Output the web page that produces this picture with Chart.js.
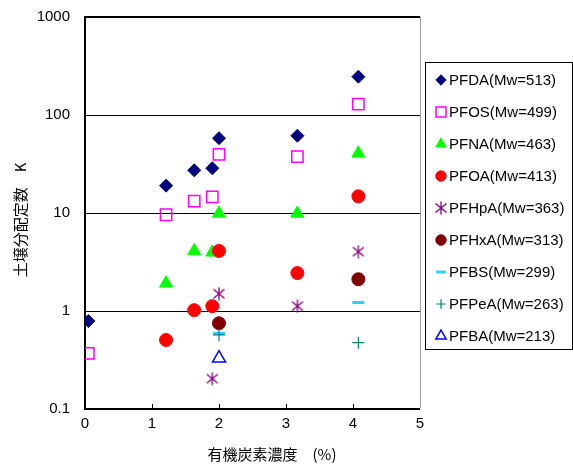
<!DOCTYPE html>
<html>
<head>
<meta charset="utf-8">
<script src="https://cdn.jsdelivr.net/npm/chart.js@4.4.0/dist/chart.umd.min.js"></script>
<style>
  body { margin: 0; background: #fff; }
  #graphic { display: block; }
</style>
</head>
<body>
<canvas id="graphic" width="573" height="466"></canvas>
<script>
// organic carbon content of the soils (%)
const soilOC = [0.05, 1.21, 1.63, 1.9, 2.0, 3.17, 4.08];

// soil partition coefficient K per compound (null = not measured)
const pfda = [0.79, 19, 27.3, 28.6, 58, 61.5, 246];
const pfos = [0.37, 9.6, 13.2, 14.6, 39.7, 37.6, 129];
const pfna = [null, 1.92, 4.1, 3.97, 9.9, 9.9, 40.6];
const pfoa = [null, 0.506, 1.02, 1.12, 4.1, 2.44, 14.8];
const pfhpa = [null, null, null, 0.204, 1.5, 1.12, 4.03];
const pfhxa = [null, null, null, null, 0.75, null, 2.11];
const pfbs = [null, null, null, null, 0.59, null, 1.22];
const pfpea = [null, null, null, null, 0.57, null, 0.475];
const pfba = [null, null, null, null, 0.33, null, null];

const labels = ['PFDA(Mw=513)', 'PFOS(Mw=499)', 'PFNA(Mw=463)', 'PFOA(Mw=413)',
  'PFHpA(Mw=363)', 'PFHxA(Mw=313)', 'PFBS(Mw=299)', 'PFPeA(Mw=263)', 'PFBA(Mw=213)'];
const yTicks = [0.1, 1, 10, 100, 1000];
const xTicks = [0, 1, 2, 3, 4, 5];

const FONT = 'Arial, "Liberation Sans", sans-serif';
const JP = '"Noto Sans CJK JP", "Noto Sans", sans-serif';

// six-armed asterisk marker like the original
function asterisk(color) {
  const c = document.createElement('canvas');
  c.width = 14; c.height = 14;
  const g = c.getContext('2d');
  g.strokeStyle = color;
  g.lineWidth = 1.3;
  g.beginPath();
  g.moveTo(7, 0.5); g.lineTo(7, 13.5);
  g.moveTo(1.5, 2.5); g.lineTo(12.5, 11.5);
  g.moveTo(12.5, 2.5); g.lineTo(1.5, 11.5);
  g.stroke();
  return c;
}

const toPoints = (vals) => soilOC
  .map((x, i) => ({ x, y: vals[i] }))
  .filter((p) => p.y !== null);

const styles = [
  { pointStyle: 'rectRot', radius: 6.5, backgroundColor: '#000080', borderColor: '#000080', borderWidth: 1 },
  { pointStyle: 'rect', radius: 8, backgroundColor: 'rgba(0,0,0,0)', borderColor: '#ff00ff', borderWidth: 1.5 },
  { pointStyle: 'triangle', radius: 7.5, backgroundColor: '#00ff00', borderColor: '#00ff00', borderWidth: 1 },
  { pointStyle: 'circle', radius: 6.5, backgroundColor: '#ff0000', borderColor: '#ff0000', borderWidth: 1 },
  { pointStyle: asterisk('#800080'), radius: 7, backgroundColor: '#800080', borderColor: '#800080', borderWidth: 1 },
  { pointStyle: 'circle', radius: 6.5, backgroundColor: '#800000', borderColor: '#800000', borderWidth: 1 },
  { pointStyle: 'line', radius: 6, backgroundColor: '#33ccff', borderColor: '#33ccff', borderWidth: 3 },
  { pointStyle: 'cross', radius: 6, backgroundColor: '#008080', borderColor: '#008080', borderWidth: 1.2 },
  { pointStyle: 'triangle', radius: 7.5, backgroundColor: 'rgba(0,0,0,0)', borderColor: '#0000ff', borderWidth: 1.5 },
];

const series = [pfda, pfos, pfna, pfoa, pfhpa, pfhxa, pfbs, pfpea, pfba];

const datasets = series.map((vals, i) => ({
  label: labels[i],
  data: toPoints(vals),
  order: -i,
  pointStyle: styles[i].pointStyle,
  pointRadius: styles[i].radius,
  pointHoverRadius: styles[i].radius,
  pointBackgroundColor: styles[i].backgroundColor,
  pointBorderColor: styles[i].borderColor,
  pointBorderWidth: styles[i].borderWidth,
  showLine: false,
}));

function legendMarker(ctx, st, x, y) {
  const r = st.pointStyle === 'rect' ? 7 : st.radius * 0.8;
  if (Chart.helpers && Chart.helpers.drawPoint) {
    Chart.helpers.drawPoint(ctx, { pointStyle: st.pointStyle, radius: r, rotation: 0, borderWidth: st.borderWidth }, x, y);
  } else {
    ctx.beginPath();
    ctx.arc(x, y, 5, 0, Math.PI * 2);
    ctx.fill();
  }
}

const decor = {
  id: 'decor',
  beforeDatasetsDraw(chart) {
    // small inward tick marks on the x axis
    const { ctx, chartArea } = chart;
    const xs = chart.scales.x;
    ctx.save();
    ctx.strokeStyle = '#000';
    ctx.lineWidth = 1;
    ctx.beginPath();
    xTicks.slice(1, -1).forEach((v) => {
      const px = Math.round(xs.getPixelForValue(v)) + 0.5;
      ctx.moveTo(px, chartArea.bottom);
      ctx.lineTo(px, chartArea.bottom - 5);
    });
    ctx.stroke();
    ctx.restore();
  },
  afterDraw(chart) {
    const { ctx, chartArea } = chart;
    ctx.save();
    ctx.fillStyle = '#000';
    ctx.textBaseline = 'middle';

    // axis titles
    ctx.font = '15px ' + JP;
    ctx.textAlign = 'center';
    ctx.fillText('有機炭素濃度　(%)', chartArea.left + 187, 454);
    ctx.save();
    ctx.translate(20, 220);
    ctx.rotate(-Math.PI / 2);
    ctx.fillText('土壌分配定数　K', 0, 0);
    ctx.restore();

    // legend box
    const lx = chartArea.right + 5;
    ctx.strokeStyle = '#000';
    ctx.lineWidth = 1;
    ctx.strokeRect(lx + 0.5, 62.5, 147, 287);

    ctx.font = '15px ' + FONT;
    ctx.textAlign = 'left';
    chart.data.datasets.forEach((ds, i) => {
      const y = 80 + i * 32;
      const st = styles[i];
      ctx.save();
      ctx.fillStyle = st.backgroundColor;
      ctx.strokeStyle = st.borderColor;
      ctx.lineWidth = st.borderWidth;
      legendMarker(ctx, st, lx + 16, y);
      ctx.restore();
      ctx.fillText(ds.label, lx + 24, y + 1);
    });
    ctx.restore();
  },
};

const graphic = new Chart(document.getElementById('graphic'), {
  type: 'scatter',
  data: { datasets },
  plugins: [decor],
  options: {
    responsive: false,
    animation: false,
    events: [],
    layout: { padding: { top: 17, right: 153, left: 0, bottom: 0 } },
    plugins: {
      legend: { display: false },
      tooltip: { enabled: false },
    },
    scales: {
      x: {
        type: 'linear',
        min: 0,
        max: 5,
        afterBuildTicks: (scale) => { scale.ticks = xTicks.map((v) => ({ value: v })); },
        afterFit: (scale) => { scale.height = 57; scale.paddingLeft = 0; scale.paddingRight = 0; },
        ticks: {
          color: '#000',
          font: { family: FONT, size: 15 },
          padding: 6,
          maxRotation: 0,
          callback: (v) => String(v),
        },
        grid: {
          drawTicks: false,
          color: (c) => (c.tick && c.tick.value === 5 ? '#a0a0a0' : 'rgba(0,0,0,0)'),
          lineWidth: (c) => (c.tick && c.tick.value === 5 ? 1 : 0),
        },
        border: { color: '#000', width: 2 },
      },
      y: {
        type: 'logarithmic',
        min: 0.1,
        max: 1000,
        afterBuildTicks: (scale) => { scale.ticks = yTicks.map((v) => ({ value: v })); },
        afterFit: (scale) => { scale.width = 85; scale.paddingTop = 0; scale.paddingBottom = 0; },
        ticks: {
          color: '#000',
          font: { family: FONT, size: 15 },
          padding: 15,
          callback: (v) => String(v),
        },
        grid: {
          drawTicks: false,
          color: '#000',
          lineWidth: (c) => (c.tick && c.tick.value === 1000 ? 2 : 1),
        },
        border: { color: '#000', width: 2 },
      },
    },
  },
});
graphic.render();
</script>
</body>
</html>
